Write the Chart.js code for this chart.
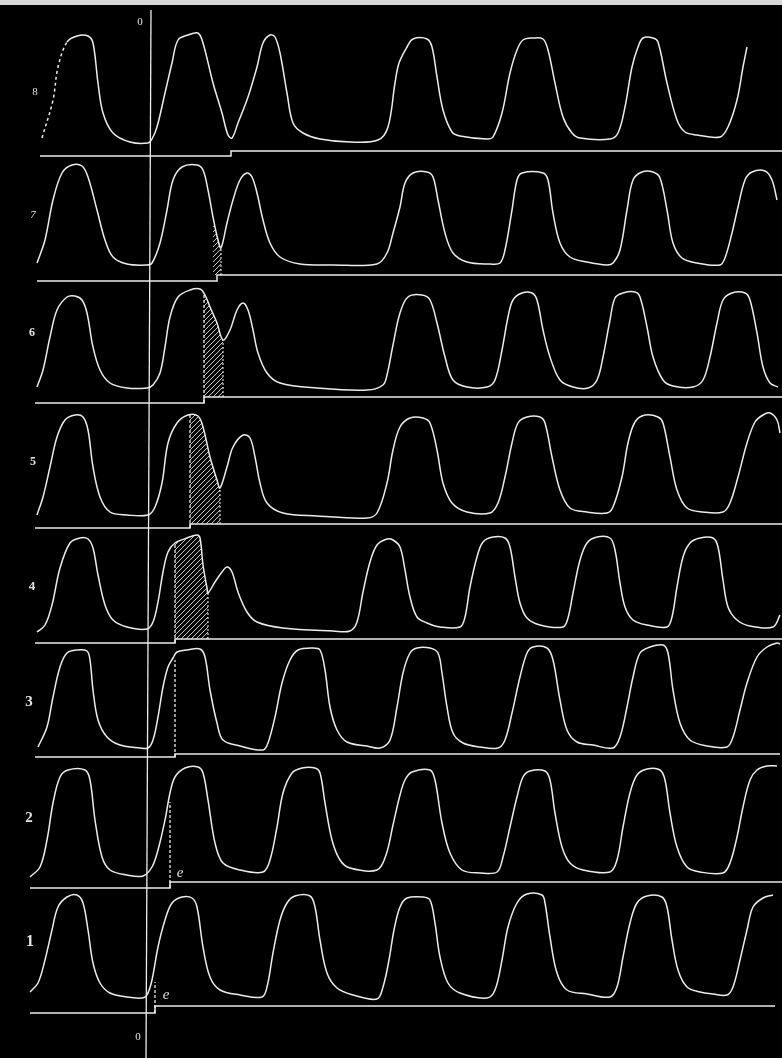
<!DOCTYPE html>
<html>
<head>
<meta charset="utf-8">
<script src="https://cdn.jsdelivr.net/npm/chart.js@4.4.1/dist/chart.umd.min.js"></script>
<style>
  html, body { margin: 0; padding: 0; background: #000; }
  #wrap { position: relative; width: 782px; height: 1058px; overflow: hidden; background: #000; }
  #edge { position: absolute; left: 0; top: 0; width: 782px; height: 5px; background: #d6d6d6; }
  canvas { display: block; }
</style>
</head>
<body>
<div id="wrap">
  <canvas id="tracings" width="782" height="1058"></canvas>
  <div id="edge"></div>
</div>
<script>
// Myogram tracings 1..8: [drum position, deflection above the signal line]
var trace1 = [[30,14],[38,23],[45,46],[52,76],[58,99],[67,109],[77,111],[83,103],[88,76],[93,43],[100,23],[110,13],[127,9],[142,8],[147,11],[152,26],[158,59],[165,86],[172,103],[182,109],[192,108],[197,99],[203,59],[210,29],[220,16],[240,11],[262,9],[267,19],[273,53],[280,86],[287,103],[295,110],[310,110],[315,99],[320,66],[327,33],[337,18],[353,11],[377,7],[383,19],[389,46],[394,76],[400,99],[407,108],[423,109],[430,106],[435,83],[440,49],[448,23],[460,13],[487,8],[495,16],[502,46],[508,79],[517,103],[527,112],[542,111],[545,103],[550,69],[557,33],[567,16],[587,12],[610,9],[617,19],[623,49],[630,83],[637,103],[647,110],[662,109],[667,99],[672,66],[678,36],[687,19],[700,14],[713,12],[727,11],[733,19],[740,46],[747,76],[753,99],[763,108],[773,111]];
var trace2 = [[30,5],[40,15],[47,42],[53,79],[60,105],[68,112],[85,112],[90,102],[95,62],[102,25],[110,12],[127,7],[143,6],[152,15],[158,32],[165,62],[170,89],[175,105],[185,114],[198,115],[203,109],[208,82],[215,39],[223,19],[240,12],[263,10],[270,22],[277,55],[283,89],[292,109],[302,114],[315,114],[320,109],[325,79],[332,42],[340,22],[350,14],[377,12],[386,27],[393,57],[400,87],[405,102],[412,110],[430,112],[435,102],[442,59],[450,29],[462,12],[480,9],[497,10],[503,25],[510,55],[517,85],[523,105],[530,111],[545,111],[550,102],[555,69],[562,35],[570,19],[583,12],[610,10],[617,22],[623,55],[630,89],[637,107],[647,113],[660,112],[665,102],[670,69],[677,35],[687,15],[700,10],[723,9],[730,19],[737,45],[743,75],[750,102],[757,112],[767,116],[777,116]];
var trace3 = [[38,7],[47,27],[53,57],[60,87],[67,101],[77,104],[87,103],[90,94],[93,64],[98,34],[107,17],[120,9],[140,6],[148,6],[153,14],[158,37],[163,67],[168,87],[173,96],[177,102],[187,104],[200,105],[205,97],[210,64],[217,31],[223,14],[240,8],[263,4],[268,11],[275,37],[282,71],[290,94],[298,104],[313,106],[320,104],[325,84],[330,47],[337,24],[347,12],[367,8],[380,6],[390,14],[397,47],[403,81],[410,101],[417,106],[430,106],[438,101],[442,81],[447,47],[453,21],[463,11],[480,7],[498,6],[505,14],[512,41],[520,77],[527,101],[533,107],[547,106],[553,94],[560,54],[567,24],[577,12],[593,9],[613,6],[620,17],[627,47],[633,77],[640,101],[650,107],[663,109],[668,101],[673,64],[680,31],[690,14],[707,8],[727,7],[733,17],[740,44],[747,71],[757,97],[767,107],[777,111],[780,110]];
var trace4 = [[37,7],[45,14],[52,34],[60,71],[70,96],[80,101],[88,100],[93,91],[98,64],[105,34],[113,19],[127,12],[147,10],[153,17],[158,37],[163,67],[168,87],[175,96],[187,101],[197,104],[200,101],[203,74],[207,51],[208,46],[215,57],[222,67],[227,72],[232,67],[238,47],[247,27],[257,17],[283,11],[333,8],[350,8],[357,17],[363,47],[370,77],[377,94],[387,100],[393,99],[400,92],[405,69],[410,42],[417,22],[427,16],[440,12],[460,12],[465,22],[470,52],[477,82],[483,97],[493,102],[505,101],[510,92],[515,62],[520,36],[527,21],[540,14],[563,12],[568,21],[573,46],[580,79],[587,96],[597,102],[610,101],[615,89],[620,56],[625,32],[633,19],[647,14],[667,12],[672,22],[677,52],[683,82],[690,96],[700,101],[713,101],[718,92],[723,59],[728,32],[737,19],[750,13],[773,12],[780,24]];
var trace5 = [[37,9],[43,27],[50,57],[57,87],[65,104],[75,109],[83,107],[88,94],[93,57],[100,27],[110,12],[127,9],[148,9],[155,17],[162,41],[168,81],[177,101],[188,109],[198,108],[203,97],[210,67],[217,44],[220,36],[227,57],[233,77],[243,89],[250,86],[255,67],[260,41],[267,21],[283,11],[317,8],[367,6],[377,11],[387,41],[393,74],[400,97],[410,106],[423,106],[430,101],[437,74],[443,41],[452,21],[467,12],[490,11],[498,21],[505,47],[512,81],[518,101],[527,107],[540,107],[545,101],[552,67],[560,34],[570,16],[587,12],[607,11],[613,17],[622,47],[628,81],[635,102],[645,109],[658,107],[663,101],[670,67],[677,34],[687,16],[703,12],[723,12],[730,21],[738,47],[747,81],[755,102],[763,109],[770,111],[777,104],[780,91]];
var trace6 = [[37,10],[43,27],[50,60],[57,87],[67,100],[75,101],[82,97],[87,84],[93,50],[100,27],[110,14],[127,9],[147,9],[153,12],[160,24],[165,50],[170,80],[178,100],[190,107],[200,108],[205,102],[210,90],[217,74],[223,57],[230,67],[237,87],[243,94],[248,87],[253,67],[258,44],[267,24],[280,14],[317,9],[367,7],[383,12],[387,22],[393,52],[400,84],[408,100],[422,102],[430,97],[437,74],[445,40],[453,17],[467,10],[487,10],[495,17],[502,47],[508,80],[513,97],[522,104],[532,104],[537,97],[543,67],[550,40],[560,17],[573,10],[588,9],[597,17],[603,40],[610,77],[615,99],[623,104],[635,105],[640,100],[647,70],[653,40],[663,17],[673,11],[693,10],[703,17],[710,40],[717,74],[723,97],[732,104],[745,104],[750,97],[757,64],[763,30],[770,14],[778,10]];
var trace7 = [[37,12],[45,35],[53,75],[62,102],[72,110],[82,109],[88,98],[97,65],[105,35],[113,18],[127,11],[147,10],[152,12],[160,32],[167,65],[173,95],[182,108],[197,110],[203,105],[208,85],[213,58],[218,35],[221,27],[227,52],[233,75],[240,95],[247,102],[252,98],[257,82],[263,55],[270,32],[280,18],[300,11],[333,10],[377,11],[387,22],[393,42],[400,68],[405,92],[413,102],[427,103],[433,98],[438,75],[445,42],[453,22],[467,13],[490,11],[500,12],[505,25],[512,65],[517,95],[522,102],[543,102],[548,95],[553,62],[560,32],[570,18],[587,13],[607,10],[613,12],[620,25],[627,65],[633,95],[642,103],[653,103],[660,97],[667,65],[673,32],[682,17],[697,12],[720,10],[725,17],[732,42],[738,68],[745,95],[752,103],[765,104],[772,95],[777,75]];
var trace8 = [[42,13],[53,51],[58,84],[67,109],[77,115],[88,115],[93,108],[98,68],[103,38],[113,18],[130,9],[148,8],[152,12],[157,24],[165,58],[172,88],[178,111],[188,116],[198,118],[203,108],[213,68],[222,38],[228,16],[232,13],[238,28],[248,54],[257,84],[263,108],[270,116],[275,114],[280,98],[287,58],[293,28],[303,18],[320,12],[350,9],[378,11],[388,24],[395,68],[399,88],[407,104],[413,112],[427,112],[432,104],[437,74],[443,41],[452,19],[460,15],[487,12],[493,14],[502,38],[510,78],[517,101],[523,111],[533,113],[543,112],[548,101],[555,68],[563,34],[572,18],[580,13],[610,12],[618,18],[625,44],[632,84],[638,104],[643,113],[653,113],[658,109],[667,68],[677,31],[685,19],[697,16],[720,14],[728,24],[737,51],[743,84],[747,104]];

// signal line per row (1..8): where it starts, where the stimulus step is, how far it drops before it
var lineStart = [30, 30, 35, 35, 35, 35, 37, 40];
var lineEnd = [775, 782, 780, 782, 782, 782, 782, 782];
var stepAt = [155, 170, 175, 175, 190, 204, 217, 231];
var markDrop = [7, 6, 3, 4, 4, 6, 6, 5];
// height the dotted stimulus line reaches (null = none drawn)
var markTop = [24, 80, 94, 96, 109, 104, null, null];

// hatched contraction areas
var hatch4 = [[175,96],[187,101],[197,104],[200,101],[203,74],[207,51],[208,46]];
var hatch5 = [[190,109],[198,108],[203,97],[210,67],[217,44],[220,36]];
var hatch6 = [[204,104],[205,102],[210,90],[217,74],[223,57]];
var hatch7 = [[213,58],[218,35],[221,27]];

// zero mark across the drum
var zeroMark = [[151, 10], [146, 1058]];

var traces = [trace1, trace2, trace3, trace4, trace5, trace6, trace7, trace8];
var hatches = [null, null, null, hatch4, hatch5, hatch6, hatch7, null];

// vertical placement of each row on the drum sheet
var rowLayout = [
  { name: '1', base: 1006, lx: 30, lh: 64, font: 'bold 16px "Liberation Serif"' },
  { name: '2', base: 882, lx: 29, lh: 64, font: 'bold 15px "Liberation Serif"' },
  { name: '3', base: 754, lx: 29, lh: 52, font: 'bold 15px "Liberation Serif"' },
  { name: '4', base: 639, lx: 32, lh: 52, font: 'bold 13px "Liberation Serif"' },
  { name: '5', base: 524, lx: 33, lh: 62, font: 'bold 12px "Liberation Serif"' },
  { name: '6', base: 397, lx: 32, lh: 64, font: 'bold 12px "Liberation Serif"' },
  { name: '7', base: 275, lx: 33, lh: 60, font: 'italic 11px "Liberation Serif"' },
  { name: '8', base: 151, lx: 35, lh: 59, font: '11px "Liberation Serif"' }
];

var INK = '#ececec';

function place(pairs, base) {
  return pairs.map(function (p) { return { x: p[0], y: base - p[1] }; });
}

var canvas = document.getElementById('tracings');
var ctx = canvas.getContext('2d');

// diagonal hatching
var tile = document.createElement('canvas');
tile.width = 5; tile.height = 5;
var tctx = tile.getContext('2d');
tctx.strokeStyle = 'rgba(235,235,235,0.85)';
tctx.lineWidth = 1;
tctx.beginPath();
tctx.moveTo(0, 5); tctx.lineTo(5, 0);
tctx.moveTo(-1, 1); tctx.lineTo(1, -1);
tctx.moveTo(4, 6); tctx.lineTo(6, 4);
tctx.stroke();
var hatchFill = ctx.createPattern(tile, 'repeat');

var datasets = [];

datasets.push({
  data: zeroMark.map(function (p) { return { x: p[0], y: p[1] }; }),
  borderColor: INK, borderWidth: 1.3, tension: 0, pointRadius: 0
});

rowLayout.forEach(function (row, i) {
  var base = row.base;
  var ds = {
    data: place(traces[i], base),
    borderColor: INK,
    borderWidth: 1.5,
    pointRadius: 0,
    tension: 0.35,
    fill: false
  };
  if (row.name === '8') {
    // the first rise on this strip is only faintly written
    ds.segment = { borderDash: function (c) { return c.p1.parsed.x <= 67 ? [3, 3] : undefined; } };
  }
  datasets.push(ds);

  datasets.push({
    data: place([[lineStart[i], -markDrop[i]], [stepAt[i], -markDrop[i]], [stepAt[i], 0], [lineEnd[i], 0]], base),
    borderColor: INK, borderWidth: 1.5, tension: 0, pointRadius: 0
  });

  if (markTop[i] !== null) {
    datasets.push({
      data: place([[stepAt[i], -markDrop[i]], [stepAt[i], markTop[i]]], base),
      borderColor: INK, borderWidth: 1.3, borderDash: [3, 2], tension: 0, pointRadius: 0
    });
  }

  var h = hatches[i];
  if (h) {
    datasets.push({
      data: place(h, base),
      borderWidth: 0,
      borderColor: 'rgba(0,0,0,0)',
      backgroundColor: hatchFill,
      tension: 0.35,
      pointRadius: 0,
      fill: { value: base }
    });
    var last = h[h.length - 1];
    datasets.push({
      data: place([[last[0], 0], [last[0], last[1]]], base),
      borderColor: INK, borderWidth: 1.1, borderDash: [2, 2], tension: 0, pointRadius: 0
    });
  }
});

var captions = [
  { text: '0', x: 140, y: 22, font: '11px "Liberation Serif"' },
  { text: '0', x: 138, y: 1037, font: '11px "Liberation Serif"' },
  { text: 'e', x: 180, y: 882 - 9, font: 'italic 15px "Liberation Serif"' },
  { text: 'e', x: 166, y: 1006 - 11, font: 'italic 15px "Liberation Serif"' }
];

var labelPlugin = {
  id: 'stripLabels',
  afterDatasetsDraw: function (chart) {
    var c = chart.ctx, xs = chart.scales.x, ys = chart.scales.y;
    c.save();
    c.fillStyle = '#e4e4e4';
    c.textAlign = 'center';
    c.textBaseline = 'middle';
    rowLayout.forEach(function (row) {
      c.font = row.font;
      c.fillText(row.name, xs.getPixelForValue(row.lx), ys.getPixelForValue(row.base - row.lh));
    });
    captions.forEach(function (t) {
      c.font = t.font;
      c.fillText(t.text, xs.getPixelForValue(t.x), ys.getPixelForValue(t.y));
    });
    c.restore();
  }
};

new Chart(ctx, {
  type: 'line',
  data: { datasets: datasets },
  options: {
    responsive: false,
    animation: false,
    devicePixelRatio: 1,
    layout: { padding: 0 },
    plugins: { legend: { display: false }, tooltip: { enabled: false } },
    scales: {
      x: { type: 'linear', min: 0, max: 782, display: false },
      y: { type: 'linear', min: 0, max: 1058, reverse: true, display: false }
    }
  },
  plugins: [labelPlugin]
});
</script>
</body>
</html>
